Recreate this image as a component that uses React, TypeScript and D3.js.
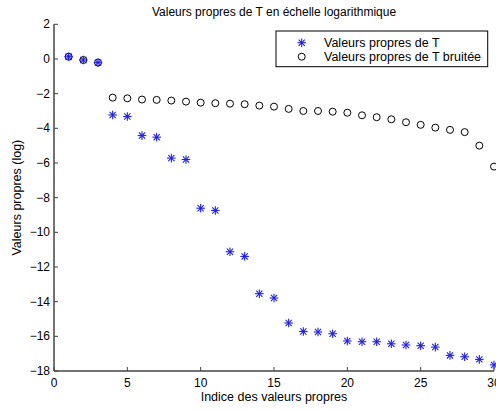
import * as d3 from "d3";

// indices 1..30
const indices = d3.range(1, 31);

// log eigenvalues of T (blue asterisks)
const valsT = [
  0.13, -0.06, -0.21, -3.23, -3.32, -4.42, -4.51, -5.72, -5.8, -8.61,
  -8.74, -11.12, -11.39, -13.54, -13.79, -15.23, -15.72, -15.75, -15.85, -16.27,
  -16.31, -16.31, -16.43, -16.5, -16.54, -16.62, -17.1, -17.18, -17.33, -17.65,
];

// log eigenvalues of noisy T (black circles)
const valsTNoisy = [
  0.13, -0.06, -0.21, -2.23, -2.27, -2.34, -2.36, -2.4, -2.46, -2.52,
  -2.55, -2.58, -2.61, -2.69, -2.75, -2.88, -3.0, -3.0, -3.04, -3.1,
  -3.25, -3.36, -3.48, -3.65, -3.8, -3.96, -4.09, -4.22, -5.0, -6.21,
];

const xTicks = [0, 5, 10, 15, 20, 25, 30];
const yTicks = [-18, -16, -14, -12, -10, -8, -6, -4, -2, 0, 2];

const title = "Valeurs propres de T en échelle logarithmique";
const xLabel = "Indice des valeurs propres";
const yLabel = "Valeurs propres (log)";
const legendLabels = ["Valeurs propres de T", "Valeurs propres de T bruitée"];

const W = 496;
const H = 410;
const font = "'Liberation Sans', Arial, sans-serif";
const blue = "#2020e0";
const axisColor = "#444";

const fmt = (v: number) => (v < 0 ? "\u2212" + Math.abs(v) : String(v));

const Asterisk = ({ x, y, s = 4.3 }: { x: number; y: number; s?: number }) => {
  const d = s * 0.72;
  return (
    <g stroke={blue} strokeWidth={1.1} fill="none">
      <line x1={x - s} y1={y} x2={x + s} y2={y} />
      <line x1={x} y1={y - s} x2={x} y2={y + s} />
      <line x1={x - d} y1={y - d} x2={x + d} y2={y + d} />
      <line x1={x - d} y1={y + d} x2={x + d} y2={y - d} />
    </g>
  );
};

const App = () => {
  const x = d3.scaleLinear().domain([0, 30]).range([54, 494]);
  const y = d3.scaleLinear().domain([-18, 2]).range([371, 24.3]);
  const [x0, x1] = x.range();
  const [y0, y1] = y.range();

  return (
    <svg
      width={W}
      height={H}
      viewBox={`0 0 ${W} ${H}`}
      style={{ position: "absolute", left: 0, top: 0, background: "#fff" }}
      fontFamily={font}
    >
      <rect width={W} height={H} fill="#fff" />

      {/* title */}
      <text x={(x0 + x1) / 2} y={16} textAnchor="middle" fontSize={12} fill="#000">
        {title}
      </text>

      {/* axes, box off, ticks inward */}
      <g stroke={axisColor} strokeWidth={1.5} fill="none">
        <line x1={x0} y1={y0} x2={x1} y2={y0} />
        <line x1={x0} y1={y0} x2={x0} y2={y1} />
      </g>
      {xTicks.map((t) => (
        <g key={"x" + t}>
          <line x1={x(t)} y1={y0} x2={x(t)} y2={y0 - 4} stroke={axisColor} strokeWidth={1} />
          <text x={x(t)} y={y0 + 16} textAnchor="middle" fontSize={12} fill="#000">
            {t}
          </text>
        </g>
      ))}
      {yTicks.map((t) => (
        <g key={"y" + t}>
          <line x1={x0} y1={y(t)} x2={x0 + 4} y2={y(t)} stroke={axisColor} strokeWidth={1} />
          <text x={x0 - 4} y={y(t) + 4} textAnchor="end" fontSize={12} fill="#000">
            {fmt(t)}
          </text>
        </g>
      ))}

      <text x={(x0 + x1) / 2} y={401} textAnchor="middle" fontSize={12.5} fill="#000">
        {xLabel}
      </text>
      <text
        transform={`translate(21,${(y0 + y1) / 2}) rotate(-90)`}
        textAnchor="middle"
        fontSize={12.5}
        fill="#000"
      >
        {yLabel}
      </text>

      {/* noisy eigenvalues */}
      {indices.map((i, k) => (
        <circle
          key={"c" + i}
          cx={x(i)}
          cy={y(valsTNoisy[k])}
          r={3.5}
          fill="none"
          stroke="#000"
          strokeWidth={1}
        />
      ))}
      {/* eigenvalues */}
      {indices.map((i, k) => (
        <Asterisk key={"a" + i} x={x(i)} y={y(valsT[k])} />
      ))}

      {/* legend */}
      <g>
        <rect x={276} y={31} width={211.7} height={35.7} fill="#fff" stroke="#000" strokeWidth={1} />
        <Asterisk x={301.7} y={42.7} />
        <circle cx={301.7} cy={56.7} r={3.5} fill="none" stroke="#000" strokeWidth={1} />
        <text x={324} y={47} fontSize={12.5} fill="#000">
          {legendLabels[0]}
        </text>
        <text x={324} y={61} fontSize={12.5} fill="#000">
          {legendLabels[1]}
        </text>
      </g>
    </svg>
  );
};

export default App;
